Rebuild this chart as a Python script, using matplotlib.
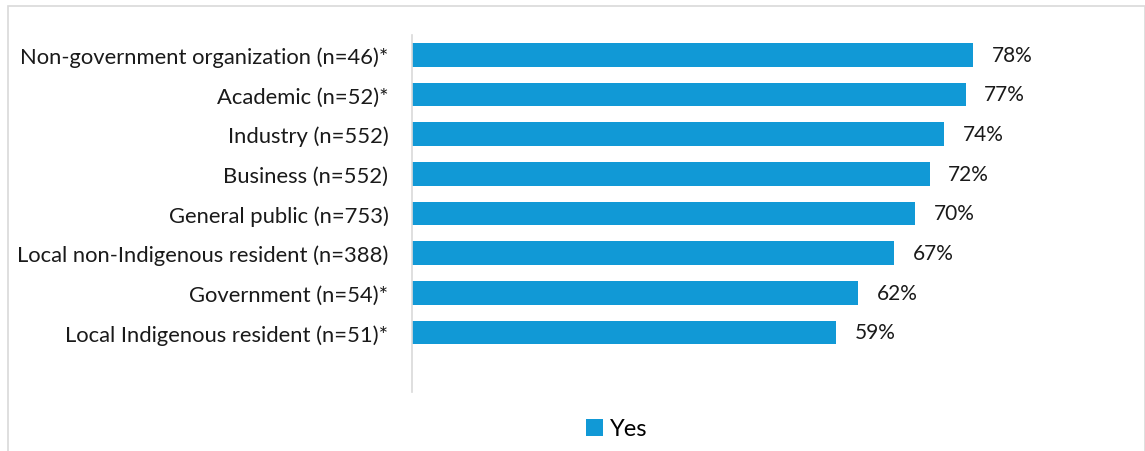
import matplotlib.pyplot as plt
from matplotlib.patches import Rectangle

categories = [
    "Non-government organization (n=46)*",
    "Academic (n=52)*",
    "Industry (n=552)",
    "Business (n=552)",
    "General public (n=753)",
    "Local non-Indigenous resident (n=388)",
    "Government (n=54)*",
    "Local Indigenous resident (n=51)*",
]
yes_values = [78, 77, 74, 72, 70, 67, 62, 59]

plt.rcParams['font.family'] = ['Lato', 'DejaVu Sans']
bar_color = "#1199D6"

fig = plt.figure(figsize=(11.45, 4.52), dpi=100)
W, H = 1145, 452
# axes placement in pixels: left 412, right 1131, top 36, bottom 393
ax = fig.add_axes([412 / W, 1 - 393 / H, (1131 - 412) / W, (393 - 36) / H])

y = list(range(len(categories)))
ax.barh(y, yes_values, height=0.6, color=bar_color, label="Yes")
for yi, v in zip(y, yes_values):
    ax.text(v + 2.6, yi, f"{v}%", va="center", ha="left", fontsize=15, color="#1a1a1a")

ax.set_xlim(0, 100)
ax.set_ylim(8.5, -0.5)
ax.set_yticks(y)
ax.set_yticklabels(categories, fontsize=15.8, color="#1a1a1a")
ax.tick_params(axis="y", length=0, pad=17)
ax.set_xticks([])
for s in ["top", "right", "bottom"]:
    ax.spines[s].set_visible(False)
ax.spines["left"].set_color("#d9d9d9")
ax.spines["left"].set_linewidth(1.2)

# outer light border
fig.patches.append(Rectangle((8 / W, -0.05), (W - 8) / W, 1 - 7 / H + 0.05,
                             transform=fig.transFigure, fill=False,
                             edgecolor="#d9d9d9", linewidth=1.2))

fig.legend(loc="center", bbox_to_anchor=(617 / W, 1 - 430 / H), frameon=False,
           fontsize=17, handlelength=0.7, handleheight=0.7, handletextpad=0.3)

fig.savefig("out.png", dpi=100)
